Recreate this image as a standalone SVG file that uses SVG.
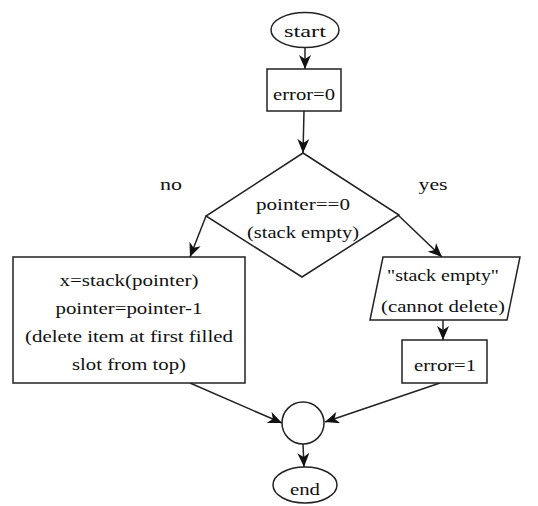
<svg xmlns="http://www.w3.org/2000/svg" width="538" height="506" viewBox="0 0 538 506">
<defs>
<marker id="ah" viewBox="0 0 14 12" refX="14" refY="6" markerWidth="14" markerHeight="12" markerUnits="userSpaceOnUse" orient="auto">
<path d="M0,0 L14,6 L0,12 L4,6 Z" fill="#111"/>
</marker>
<style>
.s{fill:#fff;stroke:#222;stroke-width:1.5}
.c{fill:none;stroke:#222;stroke-width:1.5;marker-end:url(#ah)}
.t{font-family:'Liberation Serif','Times New Roman',Times,serif;font-size:16px;fill:#111;text-anchor:middle}
</style>
</defs>
<rect width="538" height="506" fill="#fff"/>
<g id="connectors">
<line class="c" x1="305" y1="48" x2="305" y2="69"/>
<line class="c" x1="304" y1="111" x2="303" y2="153"/>
<line class="c" x1="206" y1="216" x2="190" y2="257"/>
<line class="c" x1="398" y1="215" x2="442" y2="257"/>
<line class="c" x1="443" y1="320" x2="443" y2="340"/>
<line class="c" x1="190" y1="383" x2="282" y2="423"/>
<line class="c" x1="440" y1="383" x2="325" y2="422"/>
<line class="c" x1="303" y1="444" x2="304" y2="467"/>
</g>
<g id="start">
<ellipse class="s" cx="305" cy="30" rx="34" ry="17.5"/>
<text class="t" x="305" y="37" textLength="42" lengthAdjust="spacingAndGlyphs">start</text>
</g>
<g id="error0">
<rect class="s" x="267" y="69" width="74" height="42"/>
<text class="t" x="304" y="100" textLength="62" lengthAdjust="spacingAndGlyphs">error=0</text>
</g>
<g id="decision">
<polygon class="s" points="303,153 399,215 302,277 206,216"/>
<text class="t" x="303" y="210" textLength="94" lengthAdjust="spacingAndGlyphs">pointer==0</text>
<text class="t" x="303" y="238" textLength="112" lengthAdjust="spacingAndGlyphs">(stack empty)</text>
</g>
<g id="labels">
<text class="t" x="171" y="190" textLength="22" lengthAdjust="spacingAndGlyphs">no</text>
<text class="t" x="433" y="190" textLength="29" lengthAdjust="spacingAndGlyphs">yes</text>
</g>
<g id="delete">
<rect class="s" x="13" y="257" width="232" height="126"/>
<text class="t" x="129" y="286" textLength="139" lengthAdjust="spacingAndGlyphs">x=stack(pointer)</text>
<text class="t" x="129" y="314" textLength="147" lengthAdjust="spacingAndGlyphs">pointer=pointer-1</text>
<text class="t" x="129" y="342" textLength="208" lengthAdjust="spacingAndGlyphs">(delete item at first filled</text>
<text class="t" x="129" y="370" textLength="114" lengthAdjust="spacingAndGlyphs">slot from top)</text>
</g>
<g id="output">
<polygon class="s" points="383,257 520,257 507,320 370,320"/>
<text class="t" x="443" y="281" textLength="112" lengthAdjust="spacingAndGlyphs">"stack empty"</text>
<text class="t" x="443" y="312" textLength="124" lengthAdjust="spacingAndGlyphs">(cannot delete)</text>
</g>
<g id="error1">
<rect class="s" x="402" y="340" width="85" height="43"/>
<text class="t" x="445" y="371" textLength="62" lengthAdjust="spacingAndGlyphs">error=1</text>
</g>
<g id="join">
<circle class="s" cx="303" cy="423" r="21"/>
</g>
<g id="end">
<ellipse class="s" cx="305" cy="485" rx="32" ry="18"/>
<text class="t" x="305" y="495" textLength="30" lengthAdjust="spacingAndGlyphs">end</text>
</g>
</svg>
